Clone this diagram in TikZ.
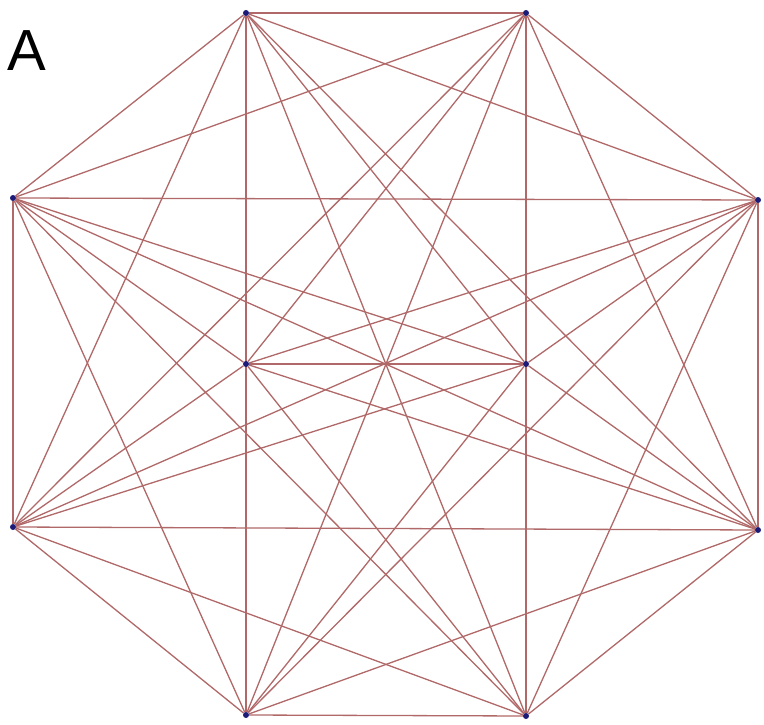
\documentclass[tikz,border=0pt]{standalone}
\usepackage{xcolor}
\usepackage{fontspec}
\setsansfont{Liberation Sans}
\usepackage{tikz}
\usetikzlibrary{backgrounds}

\definecolor{edgered}{RGB}{176,104,104}
\definecolor{dotblue}{RGB}{28,28,120}

\begin{document}
\begin{tikzpicture}[
  x=1pt, y=-1pt,
  vtx/.style={circle, fill=dotblue, inner sep=0pt, minimum size=6pt},
  edge/.style={draw=edgered, line width=1.3pt},
  panel/.style={font=\sffamily\fontsize{58}{60}\selectfont, inner sep=0pt}
]
\useasboundingbox (0,0) rectangle (764,725);

% Etiqueta
\node[panel, anchor=base west] (lbl) at (7,71) {A};

% Vertices
\node[vtx] (tl) at (246, 13)  {};
\node[vtx] (tr) at (526, 13)  {};
\node[vtx] (lu) at (13, 198)  {};
\node[vtx] (ll) at (13, 527)  {};
\node[vtx] (ru) at (758,200)  {};
\node[vtx] (rl) at (758,530)  {};
\node[vtx] (ml) at (246,364)  {};
\node[vtx] (mr) at (526,364)  {};
\node[vtx] (bl) at (246,715)  {};
\node[vtx] (br) at (526,716)  {};

% Aristas
\begin{scope}[on background layer]
\draw[edge] (tl) -- (tr);
\draw[edge] (tl) -- (lu);
\draw[edge] (tl) -- (ll);
\draw[edge] (tl) -- (ru);
\draw[edge] (tl) -- (rl);
\draw[edge] (tl) -- (ml);
\draw[edge] (tl) -- (mr);
\draw[edge] (tl) -- (bl);
\draw[edge] (tl) -- (br);
\draw[edge] (tr) -- (lu);
\draw[edge] (tr) -- (ll);
\draw[edge] (tr) -- (ru);
\draw[edge] (tr) -- (rl);
\draw[edge] (tr) -- (ml);
\draw[edge] (tr) -- (mr);
\draw[edge] (tr) -- (bl);
\draw[edge] (tr) -- (br);
\draw[edge] (lu) -- (ll);
\draw[edge] (lu) -- (ru);
\draw[edge] (lu) -- (rl);
\draw[edge] (lu) -- (ml);
\draw[edge] (lu) -- (mr);
\draw[edge] (lu) -- (bl);
\draw[edge] (lu) -- (br);
\draw[edge] (ll) -- (ru);
\draw[edge] (ll) -- (rl);
\draw[edge] (ll) -- (ml);
\draw[edge] (ll) -- (mr);
\draw[edge] (ll) -- (bl);
\draw[edge] (ll) -- (br);
\draw[edge] (ru) -- (rl);
\draw[edge] (ru) -- (ml);
\draw[edge] (ru) -- (mr);
\draw[edge] (ru) -- (bl);
\draw[edge] (ru) -- (br);
\draw[edge] (rl) -- (ml);
\draw[edge] (rl) -- (mr);
\draw[edge] (rl) -- (bl);
\draw[edge] (rl) -- (br);
\draw[edge] (ml) -- (mr);
\draw[edge] (ml) -- (bl);
\draw[edge] (ml) -- (br);
\draw[edge] (mr) -- (bl);
\draw[edge] (mr) -- (br);
\draw[edge] (bl) -- (br);
\end{scope}
\end{tikzpicture}
\end{document}
